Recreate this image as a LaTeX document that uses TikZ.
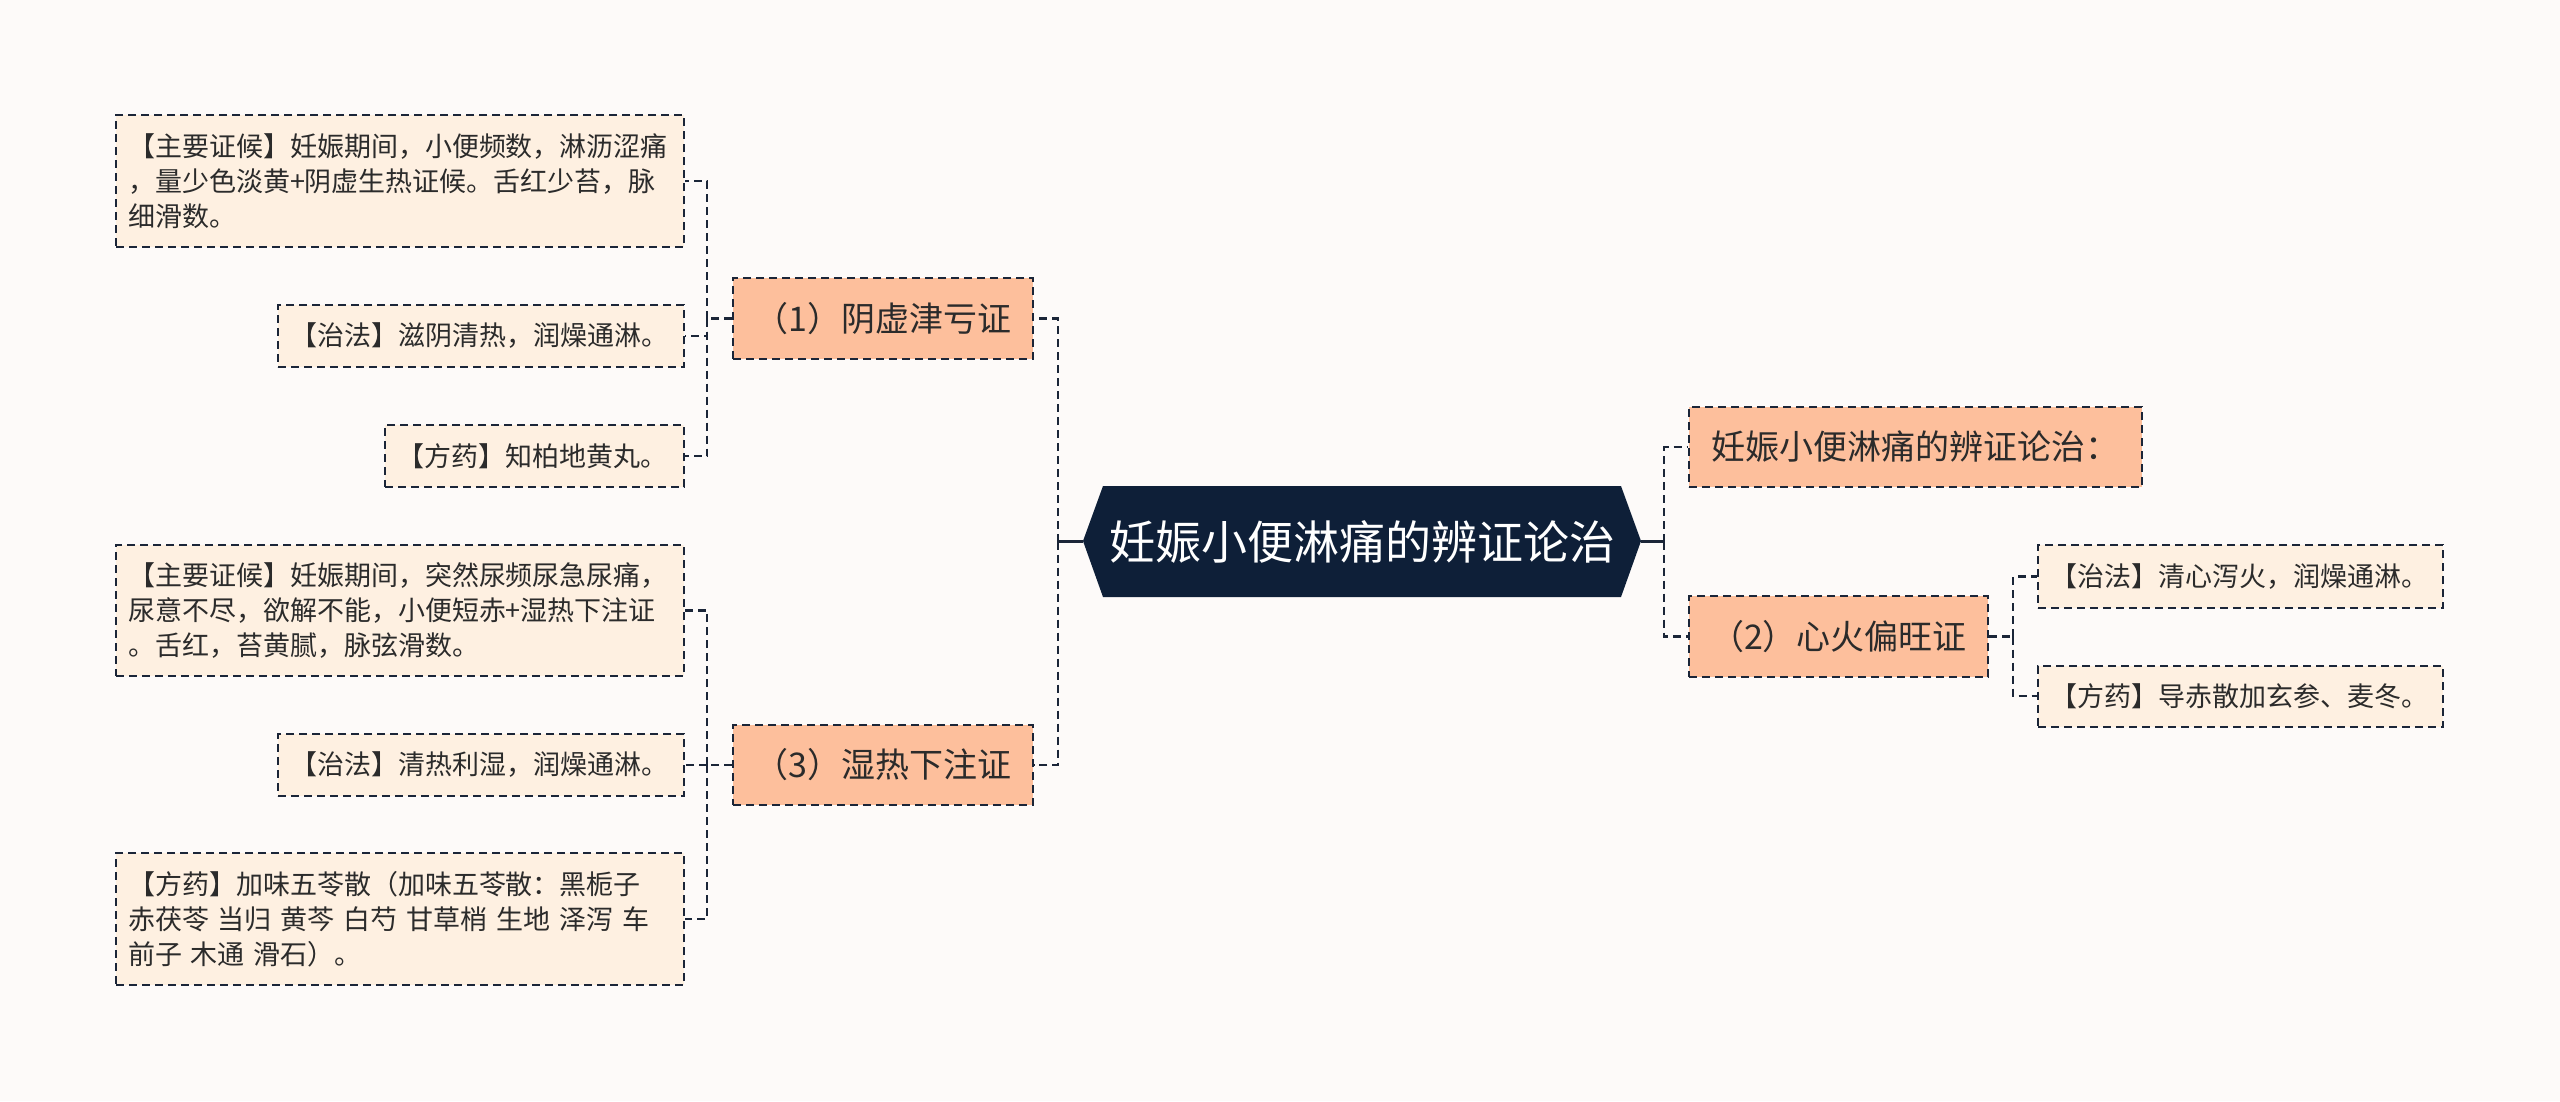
\documentclass[tikz,border=0pt]{standalone}
\usepackage{fontspec}
\setmainfont{Noto Sans CJK SC}
\definecolor{bgc}{HTML}{FDFAF9}
\definecolor{leafc}{HTML}{FEF0E1}
\definecolor{branchc}{HTML}{FDBF9C}
\definecolor{rootc}{HTML}{0E1F38}
\definecolor{linec}{HTML}{1B2538}
\definecolor{textc}{HTML}{2B2B2B}
\begin{document}
\begin{tikzpicture}[x=1pt,y=-1pt,
  boxbase/.style={draw=linec, line width=2pt, dash pattern=on 8pt off 5pt, inner sep=0pt, text=textc, align=left},
  leaf/.style={boxbase, fill=leafc, inner xsep=12pt, font=\fontsize{27}{35}\selectfont},
  branch/.style={boxbase, fill=branchc, font=\fontsize{34}{40}\selectfont},
  conn/.style={draw=linec, line width=2.5pt, dash pattern=on 8pt off 5pt},
  solidconn/.style={draw=linec, line width=3pt}
]
\fill[bgc] (0,0) rectangle (2560,1101);
\useasboundingbox (0,0) rectangle (2560,1101);

% root hexagon
\fill[rootc] (1083,541) -- (1103,486) -- (1621,486) -- (1641,541) -- (1621,597) -- (1103,597) -- cycle;
\node[minimum width=558pt, minimum height=111pt, inner sep=0pt, text=white, font=\fontsize{46}{50}\selectfont] (root) at (1362,541.5) {妊娠小便淋痛的辨证论治};

% left branches
\node[branch, minimum width=300pt, minimum height=81pt] (b1) at (883,318.5) {（1）阴虚津亏证};
\node[branch, minimum width=300pt, minimum height=80pt] (b3) at (883,765) {（3）湿热下注证};

% leaves of branch 1
\node[leaf, text width=544pt, minimum height=132pt] (a1) at (400,181) {【主要证候】妊娠期间，小便频数，淋沥涩痛\\，量少色淡黄+阴虚生热证候。舌红少苔，脉\\细滑数。};
\node[leaf, text width=382pt, minimum height=62pt] (a2) at (481,336) {【治法】滋阴清热，润燥通淋。};
\node[leaf, text width=275pt, minimum height=62pt] (a3) at (534.5,456) {【方药】知柏地黄丸。};

% leaves of branch 3
\node[leaf, text width=544pt, minimum height=131pt] (c1) at (400,610.5) {【主要证候】妊娠期间，突然尿频尿急尿痛，\\尿意不尽，欲解不能，小便短赤+湿热下注证\\。舌红，苔黄腻，脉弦滑数。};
\node[leaf, text width=382pt, minimum height=62pt] (c2) at (481,765) {【治法】清热利湿，润燥通淋。};
\node[leaf, text width=544pt, minimum height=132pt] (c3) at (400,919) {【方药】加味五苓散（加味五苓散：黑栀子\\\mbox{赤茯苓 当归 黄芩 白芍 甘草梢 生地 泽泻 车}\\前子 木通 滑石）。};

% right branches
\node[branch, minimum width=453pt, minimum height=80pt] (r1) at (1915.5,447) {妊娠小便淋痛的辨证论治：};
\node[branch, minimum width=299pt, minimum height=81pt] (r2) at (1838.5,636.5) {（2）心火偏旺证};
\node[leaf, text width=381pt, minimum height=63pt] (d1) at (2240.5,576.5) {【治法】清心泻火，润燥通淋。};
\node[leaf, text width=381pt, minimum height=61pt] (d2) at (2240.5,696) {【方药】导赤散加玄参、麦冬。};

% connectors: root to left
\draw[solidconn] (root.west) -- ++(-25,0);
\draw[conn] (root.west) ++(-25,0) |- (b1.east);
\draw[conn] (root.west) ++(-25,0) |- (b3.east);
% root to right
\draw[solidconn] (root.east) -- ++(23,0);
\draw[conn] (root.east) ++(23,0) |- (r1.west);
\draw[conn] (root.east) ++(23,0) |- (r2.west);
% branch 1 leaves
\draw[conn] (b1.west) -- ++(-25,0);
\draw[conn] (b1.west) ++(-25,0) |- (a1.east);
\draw[conn] (b1.west) ++(-25,0) |- (a2.east);
\draw[conn] (b1.west) ++(-25,0) |- (a3.east);
% branch 3 leaves
\draw[conn] (b3.west) -- ++(-25,0);
\draw[conn] (b3.west) ++(-25,0) |- (c1.east);
\draw[conn] (b3.west) ++(-25,0) |- (c2.east);
\draw[conn] (b3.west) ++(-25,0) |- (c3.east);
% branch 2 leaves
\draw[conn] (r2.east) -- ++(24,0);
\draw[conn] (r2.east) ++(24,0) |- (d1.west);
\draw[conn] (r2.east) ++(24,0) |- (d2.west);
\end{tikzpicture}
\end{document}
